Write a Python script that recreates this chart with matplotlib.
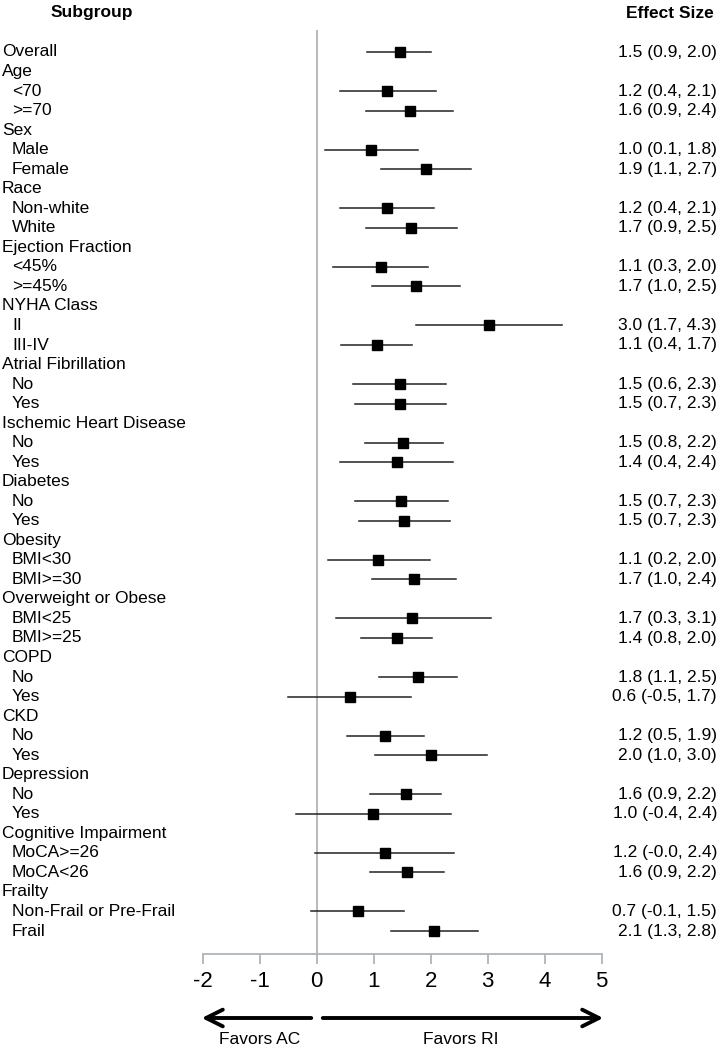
import numpy as np
import matplotlib
matplotlib.use("Agg")
import matplotlib.pyplot as plt
from matplotlib.transforms import blended_transform_factory

plt.rcParams['font.family'] = ['Liberation Sans', 'DejaVu Sans']

# subgroup rows, top to bottom (level 1 = indented)
labels = ["Overall", "Age", "<70", ">=70", "Sex", "Male", "Female",
          "Race", "Non-white", "White", "Ejection Fraction", "<45%", ">=45%",
          "NYHA Class", "II", "III-IV", "Atrial Fibrillation", "No", "Yes",
          "Ischemic Heart Disease", "No", "Yes", "Diabetes", "No", "Yes",
          "Obesity", "BMI<30", "BMI>=30", "Overweight or Obese", "BMI<25", "BMI>=25",
          "COPD", "No", "Yes", "CKD", "No", "Yes", "Depression", "No", "Yes",
          "Cognitive Impairment", "MoCA>=26", "MoCA<26", "Frailty",
          "Non-Frail or Pre-Frail", "Frail"]
levels = [0, 0, 1, 1, 0, 1, 1, 0, 1, 1, 0, 1, 1, 0, 1, 1, 0, 1, 1, 0, 1, 1, 0, 1, 1,
          0, 1, 1, 0, 1, 1, 0, 1, 1, 0, 1, 1, 0, 1, 1, 0, 1, 1, 0, 1, 1]
nan = np.nan
est = [1.46, nan, 1.24, 1.63, nan, 0.96, 1.91, nan, 1.23, 1.66, nan, 1.12, 1.74,
       nan, 3.02, 1.06, nan, 1.46, 1.46, nan, 1.52, 1.40, nan, 1.48, 1.54,
       nan, 1.08, 1.70, nan, 1.68, 1.40, nan, 1.77, 0.58, nan, 1.20, 2.01,
       nan, 1.56, 0.98, nan, 1.19, 1.58, nan, 0.72, 2.06]
lo = [0.89, nan, 0.40, 0.87, nan, 0.14, 1.13, nan, 0.41, 0.86, nan, 0.29, 0.97,
      nan, 1.74, 0.43, nan, 0.64, 0.67, nan, 0.84, 0.41, nan, 0.67, 0.74,
      nan, 0.19, 0.97, nan, 0.33, 0.77, nan, 1.10, -0.51, nan, 0.53, 1.03,
      nan, 0.93, -0.36, nan, -0.03, 0.93, nan, -0.10, 1.30]
hi = [2.01, nan, 2.09, 2.39, nan, 1.77, 2.70, nan, 2.06, 2.46, nan, 1.96, 2.51,
      nan, 4.30, 1.68, nan, 2.26, 2.26, nan, 2.22, 2.39, nan, 2.30, 2.33,
      nan, 1.99, 2.44, nan, 3.06, 2.02, nan, 2.46, 1.66, nan, 1.88, 2.99,
      nan, 2.18, 2.36, nan, 2.41, 2.23, nan, 1.53, 2.83]
xticks = [-2, -1, 0, 1, 2, 3, 4, 5]

W, H = 722, 1050
fig = plt.figure(figsize=(W / 100, H / 100), dpi=100)
ax = fig.add_axes([202.7 / W, 1 - 954 / H, 399 / W, 924 / H])

n = len(labels)
y = np.arange(n)
row_px = (931 - 52) / (n - 1)
ax.set_ylim((954 - 52) / row_px, (30 - 52) / row_px)
ax.set_xlim(-2, 5)

ax.axvline(0, color="#b0b4b8", lw=1.3, zorder=1)
for i in range(n):
    if np.isnan(est[i]):
        continue
    ax.plot([lo[i], hi[i]], [y[i], y[i]], color="#222222", lw=1.1, zorder=2)
    ax.plot(est[i], y[i], marker="s", color="black", ms=7, zorder=3)

for s in ["top", "right", "left"]:
    ax.spines[s].set_visible(False)
ax.spines["bottom"].set_color("#b0b4b8")
ax.spines["bottom"].set_linewidth(1.3)
ax.set_yticks([])
ax.set_xticks(xticks)
ax.set_xticklabels([str(t) for t in xticks])
ax.tick_params(axis="x", length=7.5, width=1.3, color="#b0b4b8", labelsize=16, pad=5)

tr = blended_transform_factory(fig.transFigure, ax.transData)
for i in range(n):
    xl = 2 if levels[i] == 0 else 12
    ax.text(xl / W, y[i], labels[i], transform=tr, ha="left", va="center",
            fontsize=12.5, clip_on=False)
    if not np.isnan(est[i]):
        txt = f"{est[i]:.1f} ({lo[i]:.1f}, {hi[i]:.1f})"
        ax.text(717 / W, y[i], txt, transform=tr, ha="right", va="center",
                fontsize=12.5, clip_on=False)

fig.text(92 / W, 1 - 13 / H, "Subgroup", ha="center", va="center",
         fontsize=12.5, fontweight="bold")
fig.text(670 / W, 1 - 13 / H, "Effect Size", ha="center", va="center",
         fontsize=12.5, fontweight="bold")

# direction arrows
arrow_style = dict(arrowstyle="->, head_length=0.8, head_width=0.4", lw=2.8, color="black")
fig.add_artist(matplotlib.patches.FancyArrowPatch(
    (314 / W, 1 - 1018 / H), (199 / W, 1 - 1018 / H), transform=fig.transFigure,
    mutation_scale=15, **arrow_style))
fig.add_artist(matplotlib.patches.FancyArrowPatch(
    (320 / W, 1 - 1018 / H), (606 / W, 1 - 1018 / H), transform=fig.transFigure,
    mutation_scale=15, **arrow_style))
fig.text(260 / W, 1 - 1039 / H, "Favors AC", ha="center", va="center", fontsize=12.5)
fig.text(461 / W, 1 - 1039 / H, "Favors RI", ha="center", va="center", fontsize=12.5)

fig.savefig("out.png", dpi=100)
